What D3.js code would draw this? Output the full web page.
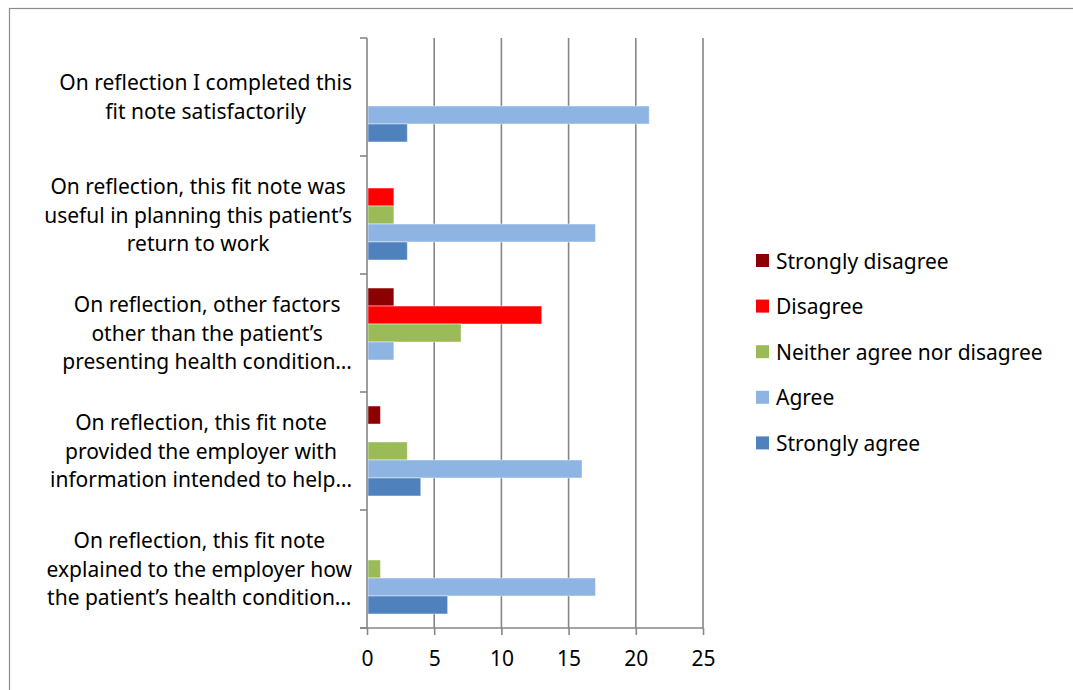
<!DOCTYPE html>
<html>
<head>
<meta charset="utf-8">
<script src="https://cdn.jsdelivr.net/npm/d3@7"></script>
<style>
  body { margin: 0; background: #fff; }
  svg text { font-family: "Noto Sans", Lato, sans-serif; fill: #000; }
</style>
</head>
<body>
<svg id="chart" width="1073" height="690"></svg>
<script>
// categories, top to bottom, already wrapped the way the chart shows them
var categories = [
    ["On reflection I completed this", "fit note satisfactorily"],
    ["On reflection, this fit note was", "useful in planning this patient\u2019s", "return to work"],
    ["On reflection, other factors", "other than the patient\u2019s", "presenting health condition\u2026"],
    ["On reflection, this fit note", "provided the employer with", "information intended to help\u2026"],
    ["On reflection, this fit note", "explained to the employer how", "the patient\u2019s health condition\u2026"]
];
var series = ["Strongly disagree", "Disagree", "Neither agree nor disagree", "Agree", "Strongly agree"];
var colors = ["#8b0000", "#ff0000", "#9bbb59", "#8eb4e3", "#4f81bd"];

// values per series, one per category (same order as categories)
var stronglyDisagree = [0, 0, 2, 1, 0];
var disagree         = [0, 2, 13, 0, 0];
var neither          = [0, 2, 7, 3, 1];
var agree            = [21, 17, 2, 16, 17];
var stronglyAgree    = [3, 3, 0, 4, 6];
var xTicks = [0, 5, 10, 15, 20, 25];

var values = [stronglyDisagree, disagree, neither, agree, stronglyAgree];

function drawChart() {
    var svg = d3.select("#chart");
    var left = 367, right = 703, plotTop = 38, plotBottom = 628;
    var fontSize = "21px";

    // outer chart border
    svg.append("rect")
        .attr("x", 9.5).attr("y", 8.5)
        .attr("width", 1100).attr("height", 700)
        .attr("fill", "none")
        .attr("stroke", "#8c8c8c")
        .attr("stroke-width", 1.2);

    var x = d3.scaleLinear().domain([0, 25]).range([left, right]);

    var y = d3.scaleBand()
        .domain(d3.range(categories.length))
        .range([plotTop, plotBottom])
        .padding(0);

    var inner = d3.scaleBand()
        .domain(series)
        .range([0, y.bandwidth()])
        .paddingInner(0)
        .paddingOuter(0.78);

    // vertical gridlines
    svg.append("g")
        .selectAll("line")
        .data(xTicks.slice(1))
        .join("line")
        .attr("x1", function (d) { return x(d); })
        .attr("x2", function (d) { return x(d); })
        .attr("y1", plotTop).attr("y2", plotBottom)
        .attr("stroke", "#868686")
        .attr("stroke-width", 1.6);

    // bars
    var rows = [];
    categories.forEach(function (c, i) {
        series.forEach(function (s, j) {
            rows.push({ cat: i, s: s, color: colors[j], value: values[j][i] });
        });
    });

    svg.append("g")
        .selectAll("rect")
        .data(rows.filter(function (d) { return d.value > 0; }))
        .join("rect")
        .attr("x", x(0) + 1)
        .attr("y", function (d) { return y(d.cat) + inner(d.s); })
        .attr("width", function (d) { return x(d.value) - x(0) - 1; })
        .attr("height", inner.bandwidth())
        .attr("fill", function (d) { return d.color; })
        .attr("stroke", "rgba(255,255,255,0.45)")
        .attr("stroke-width", 1);

    // x axis
    var xAxis = svg.append("g")
        .attr("transform", "translate(0," + plotBottom + ")")
        .call(d3.axisBottom(x).tickValues(xTicks).tickSize(7).tickPadding(16));
    xAxis.select(".domain").attr("stroke", "#868686").attr("stroke-width", 1.6)
        .attr("d", "M" + (left - 7) + ",0H" + right);
    xAxis.selectAll(".tick line").attr("stroke", "#868686").attr("stroke-width", 1.6);
    xAxis.selectAll(".tick text")
        .style("font-family", "'Noto Sans', Lato, sans-serif")
        .style("font-size", fontSize)
        .attr("fill", "#000");

    // y axis with ticks on the group boundaries
    var yAxis = svg.append("g");
    yAxis.append("line")
        .attr("x1", left).attr("x2", left)
        .attr("y1", plotTop).attr("y2", plotBottom)
        .attr("stroke", "#868686").attr("stroke-width", 1.6);
    yAxis.selectAll("line.tk")
        .data(d3.range(categories.length + 1))
        .join("line")
        .attr("class", "tk")
        .attr("x1", left - 7).attr("x2", left)
        .attr("y1", function (d) { return plotTop + d * y.step(); })
        .attr("y2", function (d) { return plotTop + d * y.step(); })
        .attr("stroke", "#868686").attr("stroke-width", 1.6);

    // category labels: lines centred inside a block that sits against the axis
    var lineH = 28.5;
    categories.forEach(function (lines, i) {
        var g = svg.append("g");
        var cy = y(i) + y.bandwidth() / 2;
        var texts = g.selectAll("text")
            .data(lines)
            .join("text")
            .attr("text-anchor", "middle")
            .style("font-size", fontSize)
            .attr("y", function (d, k) { return cy + (k - (lines.length - 1) / 2) * lineH; })
            .attr("dy", "0.36em")
            .text(function (d) { return d; });
        var w = d3.max(texts.nodes(), function (n) { return n.getComputedTextLength(); });
        texts.attr("x", 352 - w / 2);
    });

    // legend
    var legend = svg.append("g").attr("transform", "translate(756,254)");
    var item = legend.selectAll("g")
        .data(series)
        .join("g")
        .attr("transform", function (d, i) { return "translate(0," + (i * 45.6) + ")"; });
    item.append("rect")
        .attr("width", 13).attr("height", 13)
        .attr("fill", function (d, i) { return colors[i]; });
    item.append("text")
        .attr("x", 20).attr("y", 7)
        .attr("dy", "0.36em")
        .style("font-size", fontSize)
        .text(function (d) { return d; });
}

drawChart();
</script>
</body>
</html>
